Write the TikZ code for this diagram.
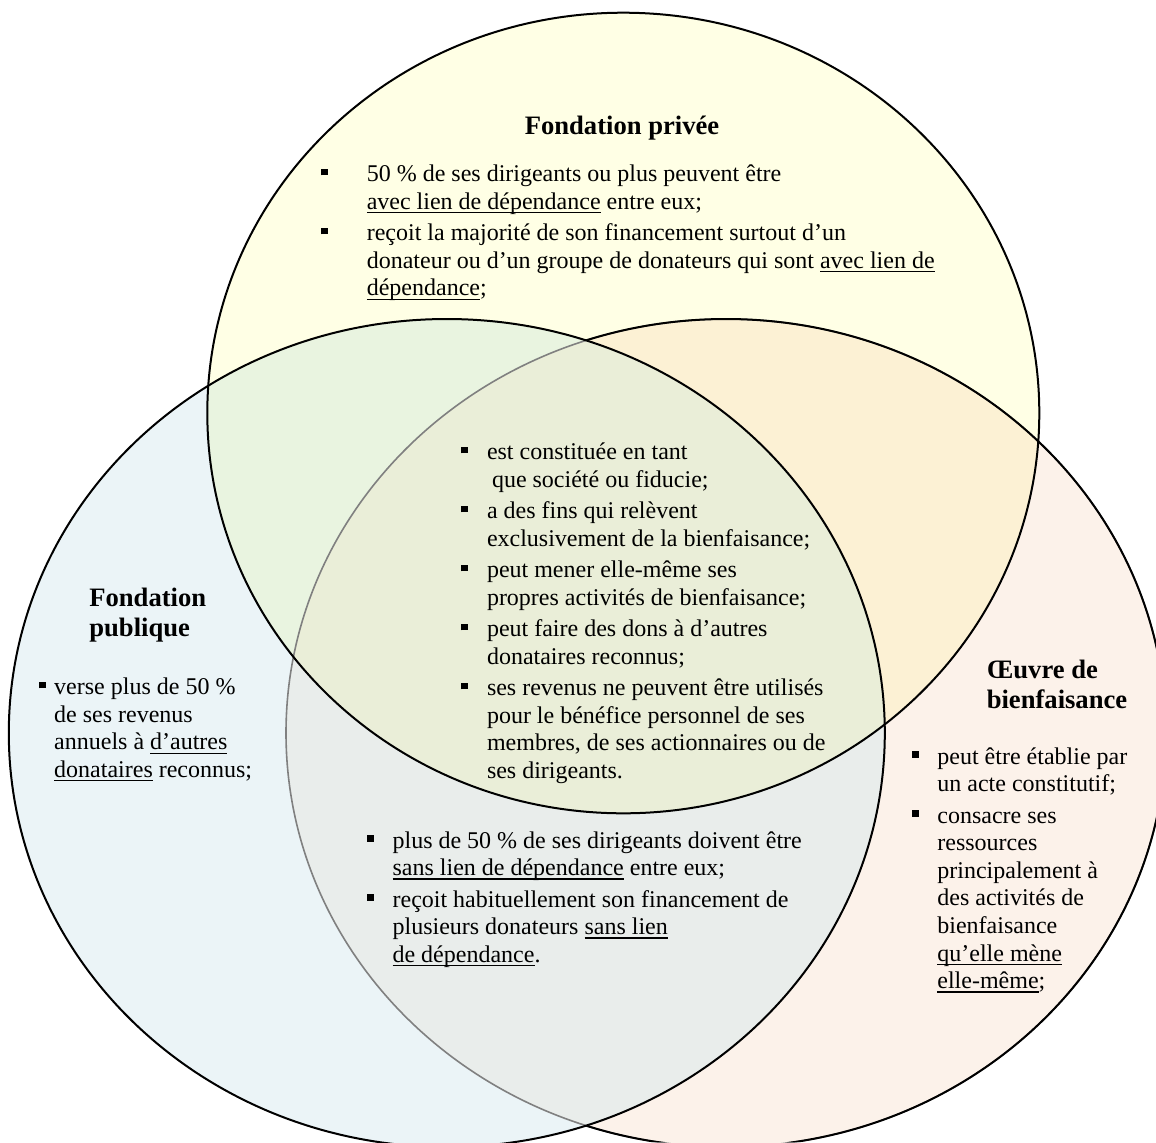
\documentclass[tikz,border=0pt]{standalone}
\usepackage{fontspec}
\setmainfont{Liberation Serif}
\usepackage{tikz}

\definecolor{fondJaune}{HTML}{FFFFE5}
\definecolor{fondBleu}{HTML}{EBF4F7}
\definecolor{fondPeche}{HTML}{FCF2EA}
\definecolor{fondVert}{HTML}{E9F4E0}
\definecolor{fondBle}{HTML}{FCF1D4}
\definecolor{fondGris}{HTML}{E9EDEB}
\definecolor{fondOlive}{HTML}{EAEED8}

\newcommand{\puce}{\rule[3.1pt]{3.4pt}{3.4pt}}
\newcommand{\souligne}[1]{\setbox0\hbox{#1}\rlap{\rule[-2pt]{\wd0}{0.6pt}}\box0\relax}
\newcommand{\cercleprive}{(623.3,413) ellipse [x radius=416, y radius=400.3]}
\newcommand{\cerclepublic}{(446.8,733) ellipse [x radius=438, y radius=414]}
\newcommand{\cercleoeuvre}{(726,733) ellipse [x radius=440, y radius=414]}

\tikzset{
  trait/.style={line width=1pt, draw=black},
  traitgris/.style={line width=0.8pt, draw=black!50},
  titre/.style={inner sep=0pt, font=\fontsize{13.3}{15.2}\selectfont\bfseries},
  liste/.style={inner sep=0pt, anchor=base west, font=\fontsize{12}{13.8}\selectfont}
}

\begin{document}
\begin{tikzpicture}[x=0.5pt, y=-0.5pt]
\useasboundingbox (0,0) rectangle (1156,1142);
\clip (0,0) rectangle (1156,1142);
\fill[fondJaune] \cercleprive;
\fill[fondBleu] \cerclepublic;
\fill[fondPeche] \cercleoeuvre;
\begin{scope}
\clip \cerclepublic;
\fill[fondGris] \cercleoeuvre;
\end{scope}
\begin{scope}
\clip \cercleprive;
\fill[fondVert] \cerclepublic;
\fill[fondBle] \cercleoeuvre;
\clip \cerclepublic;
\fill[fondOlive] \cercleoeuvre;
\end{scope}
\draw[traitgris] \cercleoeuvre;
\begin{scope}[even odd rule]
\clip (0,0) rectangle (1156,1142) \cerclepublic;
\draw[trait] \cercleoeuvre;
\end{scope}
\draw[trait] \cerclepublic;
\draw[trait] \cercleprive;

\node[titre, anchor=base] (titre-privee) at (622,134) {Fondation privée};
\node[titre, anchor=base west] (titre-publique) at (89,606.5) {\begin{tabular}[t]{@{}l@{}}Fondation\\publique\end{tabular}};
\node[titre, anchor=base west] (titre-oeuvre) at (986.4,678.5) {\begin{tabular}[t]{@{}l@{}}Œuvre de\\bienfaisance\end{tabular}};

\node[liste] (liste-privee) at (320.7,181.5) {\begin{tabular}[t]{@{}p{22.85pt}@{}l@{}}
\puce & 50 \% de ses dirigeants ou plus peuvent être\\
 & \souligne{avec lien de dépendance} entre eux;\\[1.9pt]
\puce & reçoit la majorité de son financement surtout d’un\\
 & donateur ou d’un groupe de donateurs qui sont \souligne{avec lien de}\\
 & \souligne{dépendance};
\end{tabular}};

\node[liste] (liste-commune) at (460.8,459.5) {\begin{tabular}[t]{@{}p{12.9pt}@{}l@{}}
\puce & est constituée en tant\\
 & \hspace{2.5pt}que société ou fiducie;\\[1.9pt]
\puce & a des fins qui relèvent\\
 & exclusivement de la bienfaisance;\\[1.9pt]
\puce & peut mener elle-même ses\\
 & propres activités de bienfaisance;\\[1.9pt]
\puce & peut faire des dons à d’autres\\
 & donataires reconnus;\\[1.9pt]
\puce & ses revenus ne peuvent être utilisés\\
 & pour le bénéfice personnel de ses\\
 & membres, de ses actionnaires ou de\\
 & ses dirigeants.
\end{tabular}};

\node[liste] (liste-publique) at (38.3,694.5) {\begin{tabular}[t]{@{}p{7.75pt}@{}l@{}}
\puce & verse plus de 50 \%\\
 & de ses revenus\\
 & annuels à \souligne{d’autres}\\
 & \souligne{donataires} reconnus;
\end{tabular}};

\node[liste] (liste-oeuvre) at (912,764) {\begin{tabular}[t]{@{}p{12.5pt}@{}l@{}}
\puce & peut être établie par\\
 & un acte constitutif;\\[1.9pt]
\puce & consacre ses\\
 & ressources\\
 & principalement à\\
 & des activités de\\
 & bienfaisance\\
 & \souligne{qu’elle mène}\\
 & \souligne{elle-même};
\end{tabular}};

\node[liste] (liste-publique-oeuvre) at (366.4,848) {\begin{tabular}[t]{@{}p{12.9pt}@{}l@{}}
\puce & plus de 50 \% de ses dirigeants doivent être\\
 & \souligne{sans lien de dépendance} entre eux;\\[1.9pt]
\puce & reçoit habituellement son financement de\\
 & plusieurs donateurs \souligne{sans lien}\\
 & \souligne{de dépendance}.
\end{tabular}};
\end{tikzpicture}
\end{document}
